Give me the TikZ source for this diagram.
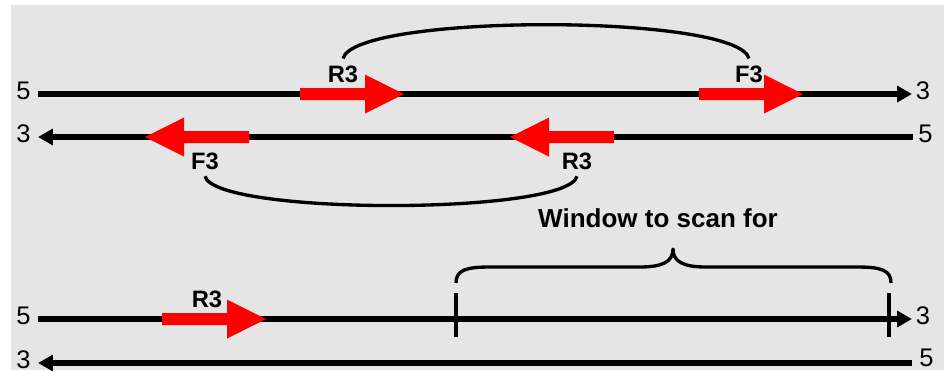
\documentclass[tikz,border=0pt]{standalone}
\usepackage{fontspec}
\setmainfont{Liberation Sans}
\usetikzlibrary{arrows.meta}
\definecolor{panel}{RGB}{229,229,229}
\definecolor{primerred}{RGB}{255,0,0}

\begin{document}
\begin{tikzpicture}[x=0.02cm, y=-0.02cm,
  strand/.style={line width=2.9pt, line cap=butt},
  fwdtip/.style={-{Triangle[length=8.5pt,width=9pt]}},
  revtip/.style={{Triangle[length=8.5pt,width=9pt]}-},
  endlabel/.style={font=\fontsize{14.5}{17}\selectfont, inner sep=0pt, yshift=2pt},
  primerlabel/.style={font=\fontsize{13.5}{16}\selectfont\bfseries, inner sep=0pt, outer sep=4pt},
  windowlabel/.style={font=\fontsize{14.8}{17}\selectfont\bfseries, inner sep=0pt},
  link/.style={line width=1.9pt},
  bracket/.style={line width=1.9pt, line join=round},
  windowtick/.style={line width=2.6pt},
  pics/primer/.style={code={
    \fill[primerred] (0,-6) -- (65,-6) -- (65,-19.5) -- (104,0)
      -- (65,19.5) -- (65,6) -- (0,6) -- cycle;}}
]
% canvas
\useasboundingbox (0,0) rectangle (944,370);
\fill[white] (0,0) rectangle (944,370);
\fill[panel] (11,5) rectangle (944,370);

% strand ends
\coordinate (s1l) at (38,94);  \coordinate (s1r) at (912,94);
\coordinate (s2l) at (38,137); \coordinate (s2r) at (913,137);
\coordinate (s3l) at (38,319); \coordinate (s3r) at (912,319);
\coordinate (s4l) at (38,363); \coordinate (s4r) at (912,363);

% strands
\draw[strand, fwdtip] (s1l) -- (s1r);
\draw[strand, revtip] (s2l) -- (s2r);
\draw[strand, fwdtip] (s3l) -- (s3r);
\draw[strand, revtip] (s4l) -- (s4r);

% strand end labels
\node[endlabel, anchor=east] (e1l) at ([xshift=-4pt]s1l) {5};
\node[endlabel, anchor=west] (e1r) at ([xshift=2pt]s1r) {3};
\node[endlabel, anchor=east] (e2l) at ([xshift=-4pt]s2l) {3};
\node[endlabel, anchor=west] (e2r) at ([xshift=2.8pt]s2r) {5};
\node[endlabel, anchor=east] (e3l) at ([xshift=-4pt]s3l) {5};
\node[endlabel, anchor=west] (e3r) at ([xshift=2pt]s3r) {3};
\node[endlabel, anchor=east] (e4l) at ([xshift=-4pt]s4l) {3};
\node[endlabel, anchor=west, yshift=1pt] (e4r) at ([xshift=4pt]s4r) {5};

% scan window ticks
\coordinate (wl) at (456,283);
\coordinate (wr) at (891,283);
\draw[windowtick] (456,293) -- (456,337);
\draw[windowtick] (889,293) -- (889,337);

% primers
\pic at (300,94) {primer};
\pic at (699,94) {primer};
\pic[xscale=-1] at (249,137) {primer};
\pic[xscale=-1] at (614,137) {primer};
\pic at (162,319) {primer};

% primer labels
\node[primerlabel, anchor=base] (r3a) at (343,82) {R3};
\node[primerlabel, anchor=base] (f3a) at (749,82) {F3};
\node[primerlabel, anchor=base] (f3b) at (205,169) {F3};
\node[primerlabel, anchor=base] (r3b) at (577,169) {R3};
\node[primerlabel, anchor=base] (r3c) at (207,307) {R3};

% primer pair links
\draw[link] (r3a.north) .. controls +(12,-45) and +(-12,-45) .. (f3a.north);
\draw[link] (f3b.south) .. controls +(10,39) and +(-10,39) .. (r3b.south);

% window brace
\draw[bracket] (wl) .. controls (456,270) and (466,267) .. (490,267)
  -- (640,267) .. controls (662,267) and (673,262) .. (673,249)
  .. controls (673,262) and (684,267) .. (706,267)
  -- (857,267) .. controls (881,267) and (891,270) .. (wr);
\node[windowlabel] (win) at (658,218) {Window to scan for};
\end{tikzpicture}
\end{document}
